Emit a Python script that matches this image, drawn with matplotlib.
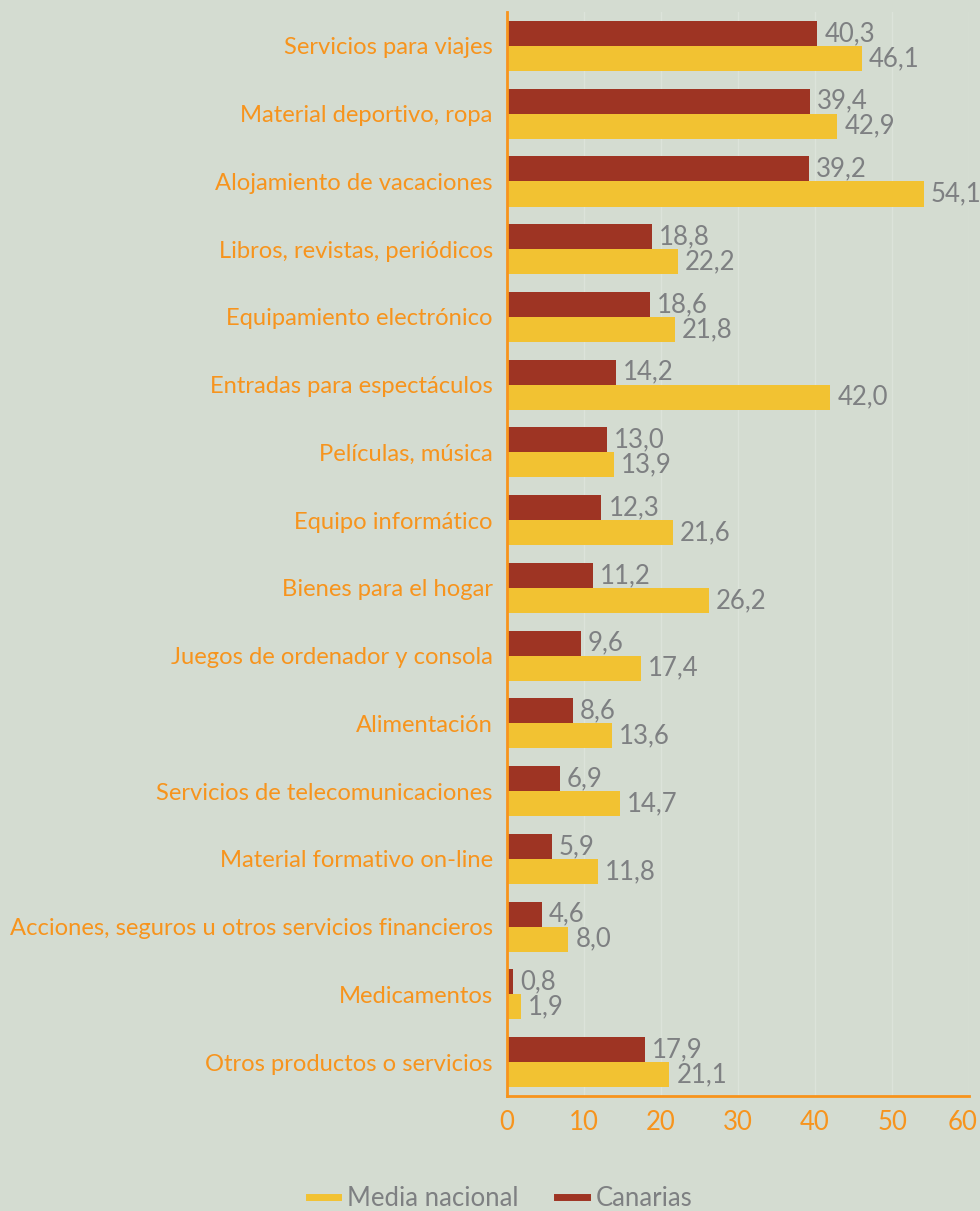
import matplotlib
matplotlib.use("Agg")
import matplotlib.pyplot as plt
import matplotlib.transforms as mtransforms
import numpy as np
from matplotlib.lines import Line2D

categories = [
    "Servicios para viajes",
    "Material deportivo, ropa",
    "Alojamiento de vacaciones",
    "Libros, revistas, periódicos",
    "Equipamiento electrónico",
    "Entradas para espectáculos",
    "Películas, música",
    "Equipo informático",
    "Bienes para el hogar",
    "Juegos de ordenador y consola",
    "Alimentación",
    "Servicios de telecomunicaciones",
    "Material formativo on-line",
    "Acciones, seguros u otros servicios financieros",
    "Medicamentos",
    "Otros productos o servicios",
]
canarias = [40.3, 39.4, 39.2, 18.8, 18.6, 14.2, 13.0, 12.3, 11.2, 9.6, 8.6, 6.9, 5.9, 4.6, 0.8, 17.9]
media_nacional = [46.1, 42.9, 54.1, 22.2, 21.8, 42.0, 13.9, 21.6, 26.2, 17.4, 13.6, 14.7, 11.8, 8.0, 1.9, 21.1]
x_ticks = [0, 10, 20, 30, 40, 50, 60]

BG = "#D4DCD1"
RED = "#9E3423"
YEL = "#F2C232"
ORANGE = "#F7941D"
GRAY = "#7E8082"

plt.rcParams["font.family"] = ["Lato", "DejaVu Sans"]

fig = plt.figure(figsize=(9.8, 12.11), dpi=100, facecolor=BG)
ax = fig.add_axes([0.517, 0.095, 0.472, 0.895], facecolor=BG)

n = len(categories)
y = np.arange(n)
h = 0.37
ax.barh(y - h / 2, canarias, height=h, color=RED, zorder=3)
ax.barh(y + h / 2, media_nacional, height=h, color=YEL, zorder=3)

for yi, v in zip(y, canarias):
    ax.text(v + 0.9, yi - h / 2, f"{v:.1f}".replace(".", ","), va="center", ha="left",
            color=GRAY, fontsize=18.5, zorder=4)
for yi, v in zip(y, media_nacional):
    ax.text(v + 0.9, yi + h / 2, f"{v:.1f}".replace(".", ","), va="center", ha="left",
            color=GRAY, fontsize=18.5, zorder=4)

ax.set_ylim(n - 0.5, -0.5)
ax.set_xlim(0, 60)
ax.set_yticks(y)
ax.set_yticklabels(categories, color=ORANGE, fontsize=17.1)
ax.set_xticks(x_ticks)
ax.set_xticklabels([str(t) for t in x_ticks], color=ORANGE, fontsize=18.5)
ax.tick_params(axis="both", length=0)
ax.tick_params(axis="y", pad=10)
ax.tick_params(axis="x", pad=10)
ax.grid(axis="x", color="#DCE3DA", linewidth=1, zorder=0)

# keep the last x tick label inside the figure
last = ax.get_xticklabels()[-1]
last.set_transform(last.get_transform() + mtransforms.ScaledTranslation(-7 / 100, 0, fig.dpi_scale_trans))

for s in ["top", "right"]:
    ax.spines[s].set_visible(False)
for s in ["left", "bottom"]:
    ax.spines[s].set_color(ORANGE)
    ax.spines[s].set_linewidth(2)
    ax.spines[s].set_zorder(5)

handles = [Line2D([0], [0], color=YEL, lw=5), Line2D([0], [0], color=RED, lw=5)]
leg = fig.legend(handles, ["Media nacional", "Canarias"], loc="center",
                 bbox_to_anchor=(0.511, 0.010), ncol=2, frameon=False,
                 fontsize=18.5, handlelength=1.15, handletextpad=0.35, columnspacing=1.5)
for t in leg.get_texts():
    t.set_color(GRAY)

fig.savefig("out.png", dpi=100, facecolor=BG)
